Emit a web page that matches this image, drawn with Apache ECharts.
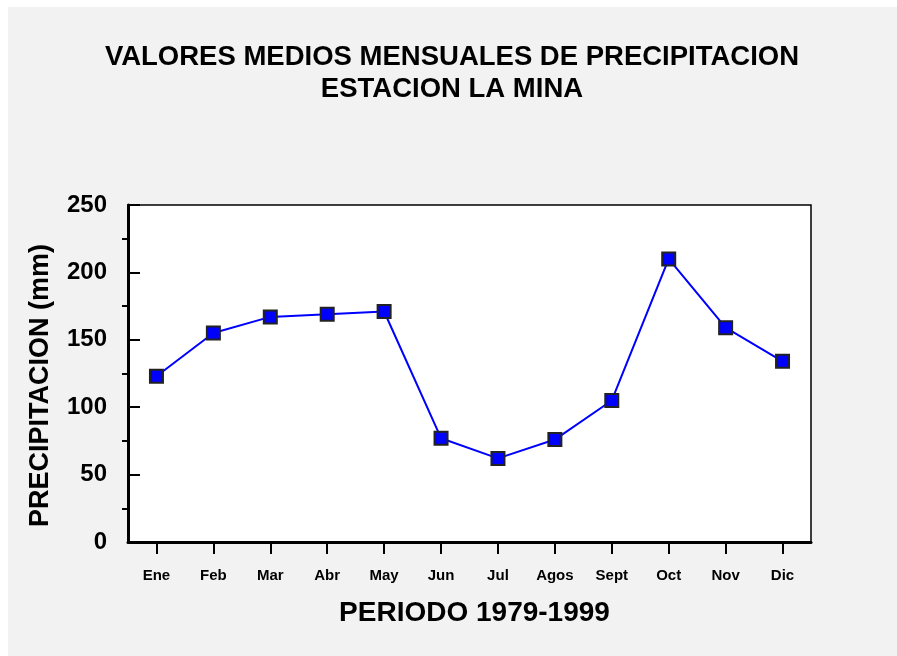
<!DOCTYPE html>
<html>
<head>
<meta charset="utf-8">
<script src="https://cdn.jsdelivr.net/npm/echarts@6/dist/echarts.min.js"></script>
<style>
  html, body { margin: 0; padding: 0; background: #fff; }
  #main { width: 897px; height: 656px; }
</style>
</head>
<body>
<div id="main"></div>
<script>
// datos de precipitacion media mensual (mm), estacion La Mina 1979-1999
var meses = ['Ene', 'Feb', 'Mar', 'Abr', 'May', 'Jun', 'Jul', 'Agos', 'Sept', 'Oct', 'Nov', 'Dic'];
var precipitacion = [123, 155, 167, 169, 171, 77, 62, 76, 105, 210, 159, 134];
// marcas menores del eje Y (cada 25 mm)
var marcasY = ['0', '25', '50', '75', '100', '125', '150', '175', '200', '225', '250'];

var fuente = '"Liberation Sans", Arial, sans-serif';
var myChart = echarts.init(document.getElementById('main'));

var option = {
  backgroundColor: '#ffffff',
  animation: false,
  // panel gris de fondo
  graphic: [{
    type: 'rect',
    z: -10,
    shape: { x: 8, y: 7, width: 889, height: 649 },
    style: { fill: '#f2f2f2' }
  }],
  title: {
    text: 'VALORES MEDIOS MENSUALES DE PRECIPITACION\nESTACION LA MINA',
    left: 447,
    top: 36,
    textAlign: 'center',
    textStyle: {
      fontFamily: fuente,
      fontWeight: 'bold',
      fontSize: 27.5,
      lineHeight: 32,
      color: '#000'
    }
  },
  grid: {
    left: 128,
    top: 205,
    right: 86,
    bottom: 114,
    show: true,
    backgroundColor: '#ffffff',
    borderColor: '#000',
    borderWidth: 1.5
  },
  xAxis: {
    type: 'category',
    data: meses,
    boundaryGap: true,
    name: 'PERIODO 1979-1999',
    nameLocation: 'middle',
    nameGap: 57,
    nameTextStyle: { fontFamily: fuente, fontWeight: 'bold', fontSize: 28, color: '#000', padding: [0, 0, 0, 10] },
    axisLine: { show: true, lineStyle: { color: '#000', width: 3 } },
    axisTick: { show: true, alignWithLabel: true, inside: false, length: 12, lineStyle: { color: '#000', width: 2 } },
    axisLabel: { show: true, margin: 26, fontFamily: fuente, fontWeight: 'bold', fontSize: 15, color: '#000' },
    splitLine: { show: false }
  },
  yAxis: [{
    type: 'value',
    min: 0,
    max: 250,
    interval: 50,
    name: 'PRECIPITACION (mm)',
    nameLocation: 'middle',
    nameGap: 74,
    nameTextStyle: { fontFamily: fuente, fontWeight: 'bold', fontSize: 27, color: '#000', padding: [0, 24, 0, 0] },
    axisLine: { show: true, lineStyle: { color: '#000', width: 3 } },
    axisTick: { show: true, inside: true, length: 12, lineStyle: { color: '#000', width: 2 } },
    axisLabel: { margin: 21, fontFamily: fuente, fontWeight: 'bold', fontSize: 24, color: '#000' },
    splitLine: { show: false }
  }, {
    // eje auxiliar solo para las marcas menores hacia afuera
    type: 'category',
    position: 'left',
    data: marcasY,
    boundaryGap: false,
    axisLine: { show: false },
    axisTick: {
      show: true,
      inside: false,
      length: 6,
      interval: function (i) { return i % 2 === 1; },
      lineStyle: { color: '#000', width: 2 }
    },
    axisLabel: { show: false },
    splitLine: { show: false }
  }],
  series: [{
    type: 'line',
    data: precipitacion,
    yAxisIndex: 0,
    symbol: 'rect',
    symbolSize: 13,
    lineStyle: { color: '#0000ff', width: 2 },
    itemStyle: { color: '#0000ff', borderColor: '#222', borderWidth: 2 },
    emphasis: { disabled: true }
  }]
};

myChart.setOption(option);
</script>
</body>
</html>
